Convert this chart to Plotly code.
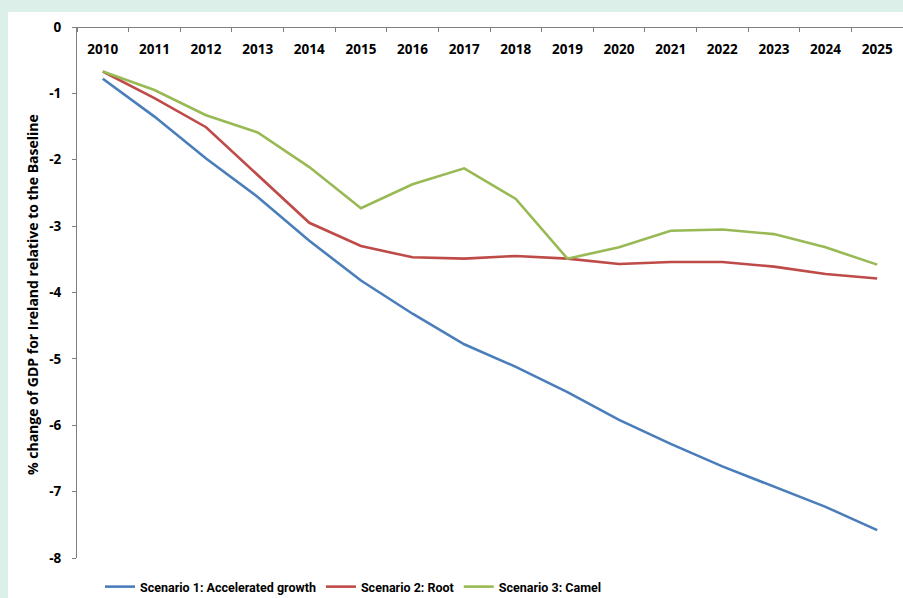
import plotly.graph_objects as go

years = [str(y) for y in range(2010, 2026)]
scenario1 = [-0.78, -1.35, -1.98, -2.56, -3.22, -3.82, -4.32, -4.78, -5.12, -5.50, -5.92, -6.28, -6.62, -6.93, -7.23, -7.58]
scenario2 = [-0.67, -1.07, -1.51, -2.23, -2.95, -3.30, -3.47, -3.49, -3.45, -3.49, -3.57, -3.54, -3.54, -3.61, -3.72, -3.79]
scenario3 = [-0.67, -0.95, -1.33, -1.59, -2.11, -2.73, -2.37, -2.13, -2.59, -3.49, -3.32, -3.07, -3.05, -3.12, -3.32, -3.58]
names = ["Scenario 1: Accelerated growth", "Scenario 2: Root", "Scenario 3: Camel"]
colors = ["#4a7ebb", "#be4b48", "#98b954"]
y_ticks = list(range(-8, 1))
y_tick_labels = [str(v) for v in y_ticks]

W, H = 903, 598
L, R, T, B = 77, 0, 27, 40
pw, ph = W - L - R, H - T - B

fig = go.Figure()
for name, vals, col in zip(names, [scenario1, scenario2, scenario3], colors):
    fig.add_trace(go.Scatter(x=years, y=vals, mode="lines", name=name,
                             line=dict(color=col, width=2.6)))

def px_x(p):
    return (p - L) / pw

def px_y(p):
    return (H - B - p) / ph

fig.update_layout(
    width=W, height=H,
    margin=dict(l=L, r=R, t=T, b=B, autoexpand=False),
    paper_bgcolor="#ddefe9",
    plot_bgcolor="white",
    font=dict(family="Open Sans, Arial", color="black"),
    shapes=[dict(type="rect", xref="paper", yref="paper",
                 x0=px_x(8), x1=px_x(W + 5), y0=px_y(H + 5), y1=px_y(12),
                 fillcolor="white", line=dict(width=0), layer="below")],
    xaxis=dict(type="category", range=[-0.5, 15.5], anchor="free", position=1,
               side="bottom", showline=True, linecolor="#7f7f7f", linewidth=1,
               ticks="outside", tickson="boundaries", ticklen=4, tickcolor="#7f7f7f",
               showgrid=False, ticklabelstandoff=10,
               tickfont=dict(size=13.5, family="Open Sans, Arial", weight="bold")),
    yaxis=dict(range=[-8, 0], tickvals=y_ticks, ticktext=y_tick_labels,
               showline=True, linecolor="#7f7f7f",
               linewidth=1, ticks="outside", ticklen=4, tickcolor="#7f7f7f",
               showgrid=False, zeroline=False, ticklabelstandoff=8,
               tickfont=dict(size=13.5, family="Open Sans, Arial", weight="bold")),
    showlegend=True,
    legend=dict(orientation="h", x=px_x(100), xanchor="left", y=px_y(587), yanchor="middle",
                bgcolor="rgba(0,0,0,0)", itemwidth=30, tracegroupgap=0,
                font=dict(size=12.5, family="Roboto, Arial", weight="bold")),
    annotations=[dict(text="% change of GDP for Ireland relative to the Baseline",
                      xref="paper", yref="paper", x=px_x(33), y=px_y(295),
                      textangle=-90, showarrow=False, xanchor="center", yanchor="middle",
                      font=dict(size=14, family="Open Sans, Arial", weight="bold"))],
)

fig.write_html("out.html")
